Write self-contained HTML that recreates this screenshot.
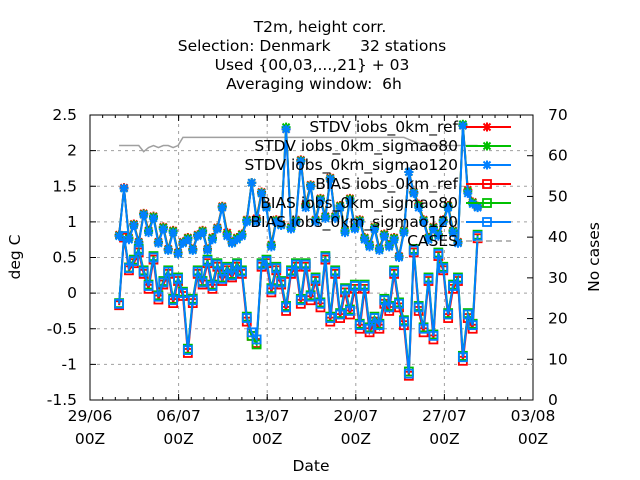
<!DOCTYPE html>
<html><head><meta charset="utf-8"><style>
body{margin:0;background:#fff}
svg{display:block;font-family:"DejaVu Sans","Liberation Sans",sans-serif}
text{white-space:pre}
</style></head><body>
<svg id="c" width="640" height="480" xml:space="preserve">
<g font-size="15.5" text-anchor="middle" fill="#000">
<text x="320" y="32">T2m, height corr.</text>
<text x="312" y="51">Selection: Denmark      32 stations</text>
<text x="312" y="70">Used {00,03,...,21} + 03</text>
<text x="314" y="89">Averaging window:  6h</text>
</g>
<rect x="90" y="115" width="443" height="285" fill="none" stroke="#000"/>
<g id="grid"></g><g id="axes"></g><g id="series"></g><g id="legend"></g>
<text x="311" y="471" font-size="15.5" text-anchor="middle">Date</text>
<text transform="translate(20,257) rotate(-90)" font-size="15.5" text-anchor="middle">deg C</text>
<text transform="translate(599,257) rotate(-90)" font-size="15.5" text-anchor="middle">No cases</text>
</svg>
<script>
const dayLabels=["29/06","06/07","13/07","20/07","27/07","03/08"];
const dayTicks=[0,7,14,21,28,35];
const yTicks=[-1.5,-1,-0.5,0,0.5,1,1.5,2,2.5];
const y2Ticks=[0,10,20,30,40,50,60,70];
const startDay=2.3, stepDay=0.388;
const stdvBlue=[.8,1.47,.75,.95,.7,1.1,.85,1.05,.7,.9,.6,.85,.55,.7,.75,.6,.8,.85,.6,.75,.9,1.2,.8,.7,.75,.8,1.0,1.55,1.0,1.4,1.2,.65,1.0,.95,2.3,.9,1.0,1.85,1.2,1.5,1.0,1.3,1.05,1.6,1.05,1.2,.85,1.3,.9,1.0,.75,.65,.9,.6,.8,.65,.75,.5,.85,1.7,1.4,1.2,1.0,.75,.9,.8,1.0,1.2,.85,.7,2.35,1.4,1.25,1.2];
const stdvRef=[.82,1.48,.78,.97,.72,1.12,.88,1.08,.72,.93,.62,.88,.57,.72,.78,.62,.82,.88,.62,.78,.92,1.22,.85,.72,.78,.83,1.03,1.55,1.05,1.42,1.22,.68,1.03,.97,2.3,.93,1.03,1.87,1.25,1.52,1.03,1.33,1.08,1.62,1.08,1.23,.88,1.33,.93,1.03,.78,.68,.93,.63,.83,.68,.78,.52,.88,1.7,1.42,1.25,1.03,.78,.93,.83,1.03,1.23,.88,.72,2.35,1.45,1.28,1.22];
const stdv80=[.81,1.47,.77,.96,.71,1.11,.87,1.07,.71,.92,.61,.87,.56,.71,.77,.61,.81,.87,.61,.77,.91,1.21,.83,.71,.77,.82,1.02,1.55,1.03,1.41,1.21,.67,1.02,.96,2.33,.92,1.02,1.86,1.23,1.51,1.02,1.32,1.07,1.61,1.07,1.22,.87,1.32,.92,1.02,.77,.67,.92,.62,.82,.67,.77,.51,.87,1.7,1.41,1.23,1.02,.77,.92,.82,1.02,1.22,.87,.71,2.37,1.43,1.27,1.21];
const biasBlue=[-.15,.8,.35,.45,.6,.3,.1,.5,-.05,.15,.3,-.1,.2,0,-.8,-.1,.3,.15,.45,.1,.4,.2,.35,.25,.4,.3,-.35,-.55,-.65,.4,.45,.05,.35,.15,-.2,.3,.4,-.1,.4,-.05,.2,-.15,.5,-.35,.3,-.3,.05,-.25,.1,-.45,.1,-.5,-.35,-.45,-.1,-.2,.3,-.15,-.4,-1.13,.6,-.2,-.5,.2,-.6,.55,.35,-.3,.1,.2,-.9,-.3,-.45,.8];
const biasRef=[-.17,.78,.32,.42,.57,.27,.06,.47,-.09,.12,.27,-.14,.17,-.04,-.84,-.14,.27,.12,.42,.06,.37,.17,.32,.22,.37,.27,-.4,-.6,-.7,.37,.42,.01,.32,.12,-.25,.27,.37,-.15,.37,-.1,.17,-.2,.47,-.4,.27,-.35,.01,-.3,.06,-.5,.06,-.55,-.4,-.5,-.15,-.25,.27,-.2,-.45,-1.16,.57,-.25,-.55,.17,-.65,.52,.32,-.35,.06,.17,-.95,-.35,-.5,.77];
const bias80=[-.14,.8,.36,.47,.62,.32,.12,.52,-.03,.17,.32,-.08,.22,.02,-.78,-.08,.32,.17,.47,.12,.42,.22,.37,.27,.42,.32,-.33,-.6,-.72,.42,.47,.07,.37,.17,-.18,.32,.42,-.08,.42,-.03,.22,-.13,.52,-.33,.32,-.28,.07,-.23,.12,-.43,.12,-.48,-.33,-.43,-.08,-.18,.32,-.13,-.38,-1.1,.62,-.18,-.48,.22,-.58,.57,.37,-.28,.12,.22,-.88,-.28,-.43,.82];
const cases=[62.5,62.5,62.5,62.5,62.5,61,62,62.5,62,62.5,62.5,62,62.5,64.5,64.5,64.5,64.5,64.5,64.5,64.5,64.5,64.5,64.5,64.5,64.5,64.5,64.5,64.5,64.5,64.5,64.5,64.5,64.5,64.5,64.5,64.5,64.5,64.5,64.5,64.5,64.5,64.5,64.5,64.5,64.5,64.5,64.5,64.5,64.5,64.5,64.5,64.5,64.5,64.5,64.5,64.5,64.5,64.5,64.5,64,63.5,63,63,62.5,62.5,62.5,62.5,62.5,62.5,62.5,62.5,62.5,62.5,62.5];
const X0=90,X1=533,Y0=400,Y1=115;
const xs=d=>X0+(d/35)*(X1-X0);
const ys=v=>Y0-(v+1.5)/4*(Y0-Y1);
const y2s=v=>Y0-v/70*(Y0-Y1);
const NS='http://www.w3.org/2000/svg';
function mk(p,t,a){const e=document.createElementNS(NS,t);for(const k in a)e.setAttribute(k,a[k]);p.appendChild(e);return e;}
const grid=document.getElementById('grid'),axes=document.getElementById('axes'),ser=document.getElementById('series'),leg=document.getElementById('legend');
yTicks.forEach(v=>{const y=ys(v);
 if(v>-1.5&&v<2.5){const g=mk(grid,'line',{x1:X0,x2:X1,y1:y,y2:y,stroke:'#a0a0a0','stroke-dasharray':'3,4'});}
 mk(axes,'line',{x1:X0,x2:X0+6,y1:y,y2:y,stroke:'#000'});
 const t=mk(axes,'text',{x:X0-13,y:y+5,'font-size':15.5,'text-anchor':'end'});t.textContent=v;
 });
y2Ticks.forEach(v=>{const y=y2s(v);
 mk(axes,'line',{x1:X1-6,x2:X1,y1:y,y2:y,stroke:'#000'});
 const t=mk(axes,'text',{x:X1+15,y:y+5,'font-size':15.5});t.textContent=v;
 });
for(let d=1;d<35;d++){const x=xs(d);mk(axes,'line',{x1:x,x2:x,y1:Y0,y2:Y0-3,stroke:'#000'});mk(axes,'line',{x1:x,x2:x,y1:Y1,y2:Y1+3,stroke:'#000'});}
dayTicks.forEach((d,i)=>{const x=xs(d);
 if(i>0&&i<dayTicks.length-1){const g=mk(grid,'line',{x1:x,x2:x,y1:Y0,y2:Y1,stroke:'#a0a0a0','stroke-dasharray':'3,4'});}
 mk(axes,'line',{x1:x,x2:x,y1:Y0,y2:Y0-6,stroke:'#000'});mk(axes,'line',{x1:x,x2:x,y1:Y1,y2:Y1+6,stroke:'#000'});
 const t=mk(axes,'text',{x:x,y:421,'font-size':15.5,'text-anchor':'middle'});t.textContent=dayLabels[i];
 
 const t2=mk(axes,'text',{x:x,y:444,'font-size':15.5,'text-anchor':'middle'});t2.textContent='00Z';
 });
function px(i){return xs(startDay+i*stepDay);}
let cp=cases.map((v,i)=>px(i)+','+y2s(v)).join(' ');
const cl=mk(ser,'polyline',{points:cp,fill:'none',stroke:'#a0a0a0','stroke-width':1.5});

function star(p,x,y,c){mk(p,'path',{d:`M${x-3.5},${y-3.5}L${x+3.5},${y+3.5}M${x-3.5},${y+3.5}L${x+3.5},${y-3.5}M${x-4.5},${y}L${x+4.5},${y}M${x},${y-4.5}L${x},${y+4.5}`,stroke:c,'stroke-width':2});}
function sq(p,x,y,c){mk(p,'rect',{x:x-4,y:y-4,width:8,height:8,fill:'none',stroke:c,'stroke-width':1.8});}
const defs=[[stdvRef,'#ff0000',star,'stdv-ref'],[stdv80,'#00c000',star,'stdv-sigmao80'],[biasRef,'#ff0000',sq,'bias-ref'],[bias80,'#00c000',sq,'bias-sigmao80'],[stdvBlue,'#0080ff',star,'stdv-sigmao120'],[biasBlue,'#0080ff',sq,'bias-sigmao120']];
defs.forEach(([arr,c,m,n])=>{const g=mk(ser,'g',{});
 
 mk(g,'polyline',{points:arr.map((v,i)=>px(i)+','+ys(v)).join(' '),fill:'none',stroke:c,'stroke-width':2});
 arr.forEach((v,i)=>m(g,px(i),ys(v),c));});
const legItems=[["STDV iobs_0km_ref",'#ff0000',star],["STDV iobs_0km_sigmao80",'#00c000',star],["STDV iobs_0km_sigmao120",'#0080ff',star],["BIAS iobs_0km_ref",'#ff0000',sq],["BIAS iobs_0km_sigmao80",'#00c000',sq],["BIAS iobs_0km_sigmao120",'#0080ff',sq],["CASES",'#a0a0a0',null]];
legItems.forEach(([lab,c,m],i)=>{const y=127+i*19;const g=mk(leg,'g',{});
 
 const t=mk(g,'text',{x:458,y:y+5,'font-size':15.5,'text-anchor':'end'});t.textContent=lab;
 mk(g,'line',{x1:466,x2:511,y1:y,y2:y,stroke:c,'stroke-width':m?2:1.5,'stroke-dasharray':m?'none':'6,4'});
 if(m)m(g,487,y,c);});
</script>
</body></html>
